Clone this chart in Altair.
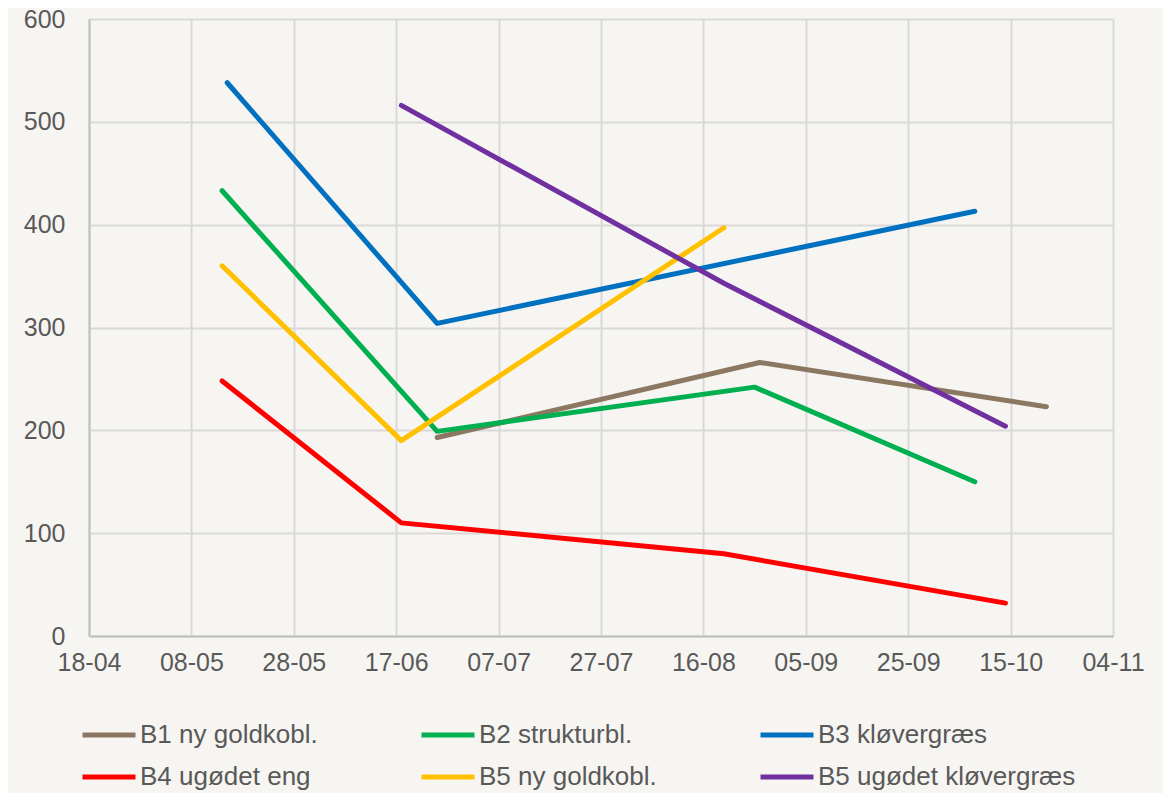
import altair as alt
import pandas as pd

# ---- data ----
series_names = ["B1 ny goldkobl.", "B2 strukturbl.", "B3 kløvergræs",
                "B4 ugødet eng", "B5 ny goldkobl.", "B5 ugødet kløvergræs"]
series_colors = ["#8C7862", "#00B050", "#0070C0", "#FF0000", "#FFC000", "#7030A0"]

b1_dates = ["2020-06-25", "2020-08-27", "2020-10-22"]
b1_vals = [193, 266, 223]
b2_dates = ["2020-05-14", "2020-06-25", "2020-08-26", "2020-10-08"]
b2_vals = [433, 199, 242, 150]
b3_dates = ["2020-05-15", "2020-06-25", "2020-10-08"]
b3_vals = [538, 304, 413]
b4_dates = ["2020-05-14", "2020-06-18", "2020-08-20", "2020-10-14"]
b4_vals = [248, 110, 80, 32]
b5n_dates = ["2020-05-14", "2020-06-18", "2020-08-20"]
b5n_vals = [360, 190, 397]
b5u_dates = ["2020-06-18", "2020-08-20", "2020-10-14"]
b5u_vals = [516, 343, 204]

# x-axis ticks (day, month) every 20 days
tick_days = [(18, 4), (8, 5), (28, 5), (17, 6), (7, 7), (27, 7),
             (16, 8), (5, 9), (25, 9), (15, 10), (4, 11)]
y_ticks = [0, 100, 200, 300, 400, 500, 600]

all_dates = [b1_dates, b2_dates, b3_dates, b4_dates, b5n_dates, b5u_dates]
all_vals = [b1_vals, b2_vals, b3_vals, b4_vals, b5n_vals, b5u_vals]

rows = []
for name, ds, vs in zip(series_names, all_dates, all_vals):
    for d, v in zip(ds, vs):
        rows.append({"serie": name, "dato": d, "vaerdi": v})
df = pd.DataFrame(rows)

YEAR = 2020
tick_vals = [alt.DateTime(year=YEAR, month=m, date=d, utc=True) for d, m in tick_days]

label_color = "#595959"
FONT = "Liberation Sans"

chart = alt.Chart(df).mark_line(strokeWidth=5, strokeCap="round", strokeJoin="round").encode(
    x=alt.X("dato:T",
            scale=alt.Scale(type="utc", domain=[tick_vals[0], tick_vals[-1]]),
            axis=alt.Axis(values=tick_vals, format="%d-%m", title=None,
                          labelFontSize=25, labelColor=label_color, labelFont=FONT,
                          labelPadding=14, ticks=False, domainColor="#BFBFBF",
                          domainWidth=2, gridColor="#D9D9D9", gridWidth=2,
                          labelFlush=False)),
    y=alt.Y("vaerdi:Q",
            scale=alt.Scale(domain=[0, 600], nice=False),
            axis=alt.Axis(values=y_ticks, title=None,
                          labelFontSize=25, labelColor=label_color, labelFont=FONT,
                          labelPadding=24, ticks=False, domainColor="#BFBFBF",
                          domainWidth=2, gridColor="#D9D9D9", gridWidth=2)),
    color=alt.Color("serie:N",
                    scale=alt.Scale(domain=series_names, range=series_colors),
                    sort=series_names,
                    legend=alt.Legend(orient="none", legendX=-9, legendY=687,
                                      direction="horizontal", columns=3,
                                      title=None, symbolType="stroke",
                                      symbolSize=2809, symbolStrokeWidth=5,
                                      labelFontSize=26, labelColor=label_color,
                                      labelFont=FONT, labelOffset=2,
                                      columnPadding=93, rowPadding=-11,
                                      labelLimit=400)),
    order=alt.Order("dato:T"),
).properties(
    width=1024, height=617,
    background="#F7F5F1",
    padding={"left": 81, "top": 11, "right": 50, "bottom": 162},
    autosize=alt.AutoSizeParams(type="none"),
).configure_view(strokeWidth=0)

chart.save("out.html", embed_options={"renderer": "svg", "actions": False})
